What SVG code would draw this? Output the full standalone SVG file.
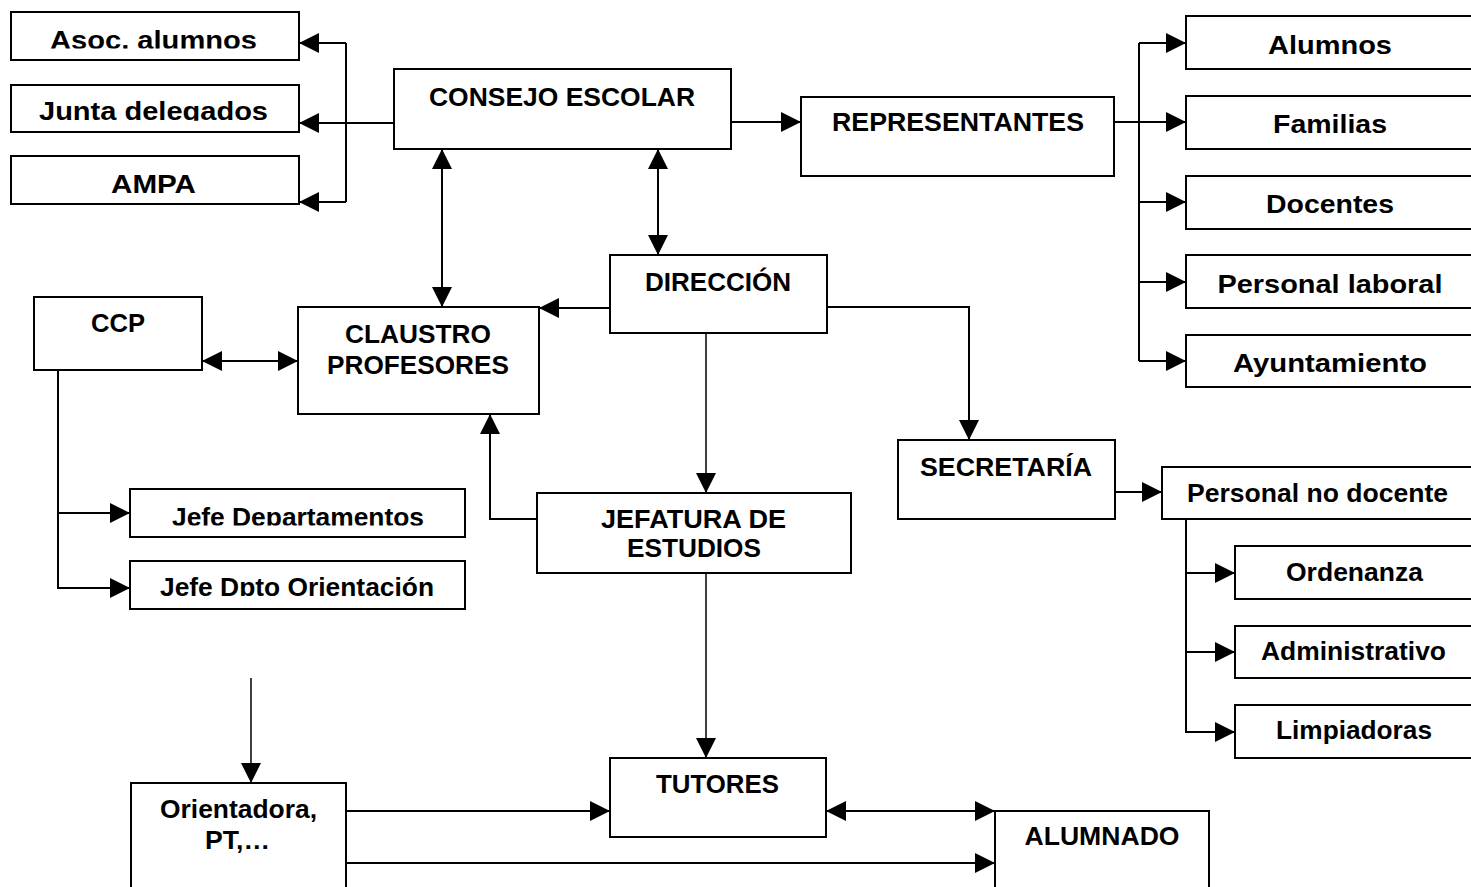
<svg xmlns="http://www.w3.org/2000/svg" width="1471" height="887" viewBox="0 0 1471 887">
<style>
.box{fill:#fff;stroke:#000;stroke-width:2}
.t{font-family:"Liberation Sans",Arial,sans-serif;font-weight:bold;font-size:25px;text-anchor:middle;fill:#000}
.c{fill:none;stroke:#000;stroke-width:2}
.thin{stroke-width:1.5}
.e{marker-end:url(#ah)}
.b{marker-start:url(#ah);marker-end:url(#ah)}
</style>
<defs>
<marker id="ah" markerUnits="userSpaceOnUse" markerWidth="20" markerHeight="20" viewBox="0 0 20 20" refX="20" refY="10" orient="auto-start-reverse"><path d="M0,0L20,10L0,20z" fill="#000"/></marker>
<clipPath id="clAsoc"><rect x="0" y="0" width="310" height="48.6"/></clipPath>
<clipPath id="clJunta"><rect x="0" y="85" width="310" height="35.7"/></clipPath>
<clipPath id="clJDep"><rect x="120" y="480" width="360" height="45.6"/></clipPath>
<clipPath id="clJOri"><rect x="120" y="555" width="360" height="41"/></clipPath>
</defs>
<rect width="1471" height="887" fill="#fff"/>
<g id="connectors">
<path class="c e" d="M394,123H299"/>
<path class="c" d="M346,43V202"/>
<path class="c e" d="M346,43H299"/>
<path class="c e" d="M346,202H299"/>
<path class="c e" d="M731,122H801"/>
<path class="c b" d="M442,149V307"/>
<path class="c b" d="M658,149V255"/>
<path class="c e" d="M1114,122H1186"/>
<path class="c" d="M1139,43V361"/>
<path class="c e" d="M1139,43H1186"/>
<path class="c e" d="M1139,202H1186"/>
<path class="c e" d="M1139,282H1186"/>
<path class="c e" d="M1139,361H1186"/>
<path class="c e" d="M610,308H539"/>
<path class="c e" d="M827,307H969V440"/>
<path class="c thin e" d="M706,333V493"/>
<path class="c b" d="M202,361H298"/>
<path class="c e" d="M58,370V588H130"/>
<path class="c e" d="M58,513H130"/>
<path class="c e" d="M537,519H490V414"/>
<path class="c e" d="M1115,492H1162"/>
<path class="c e" d="M1186,519V732H1235"/>
<path class="c e" d="M1186,573H1235"/>
<path class="c e" d="M1186,652H1235"/>
<path class="c thin e" d="M706,573V758"/>
<path class="c thin e" d="M251,678V783"/>
<path class="c e" d="M346,811H610"/>
<path class="c b" d="M826,811H995"/>
<path class="c e" d="M346,863H995"/>
</g>
<g id="asoc"><rect class="box" x="11" y="12" width="288" height="48"/><text class="t" x="153.5" y="49" font-size="24" textLength="207" lengthAdjust="spacingAndGlyphs" clip-path="url(#clAsoc)">Asoc. alumnos</text></g>
<g id="junta"><rect class="box" x="11" y="85" width="288" height="47"/><text class="t" x="153.5" y="120" font-size="26" textLength="229" lengthAdjust="spacingAndGlyphs" clip-path="url(#clJunta)">Junta delegados</text></g>
<g id="ampa"><rect class="box" x="11" y="156" width="288" height="48"/><text class="t" x="153.5" y="193" textLength="85" lengthAdjust="spacingAndGlyphs">AMPA</text></g>
<g id="consejo"><rect class="box" x="394" y="69" width="337" height="80"/><text class="t" x="562" y="105.5" textLength="266" lengthAdjust="spacingAndGlyphs">CONSEJO ESCOLAR</text></g>
<g id="representantes"><rect class="box" x="801" y="97" width="313" height="79"/><text class="t" x="958" y="131" textLength="252" lengthAdjust="spacingAndGlyphs">REPRESENTANTES</text></g>
<g id="alumnos"><rect class="box" x="1186" y="16" width="300" height="53"/><text class="t" x="1330" y="54" font-size="26" textLength="124" lengthAdjust="spacingAndGlyphs">Alumnos</text></g>
<g id="familias"><rect class="box" x="1186" y="96" width="300" height="53"/><text class="t" x="1330" y="133" font-size="26" textLength="114" lengthAdjust="spacingAndGlyphs">Familias</text></g>
<g id="docentes"><rect class="box" x="1186" y="176" width="300" height="53"/><text class="t" x="1330" y="213" font-size="26" textLength="128" lengthAdjust="spacingAndGlyphs">Docentes</text></g>
<g id="personal-laboral"><rect class="box" x="1186" y="255" width="300" height="53"/><text class="t" x="1330" y="293" font-size="26" textLength="225" lengthAdjust="spacingAndGlyphs">Personal laboral</text></g>
<g id="ayuntamiento"><rect class="box" x="1186" y="335" width="300" height="52"/><text class="t" x="1330" y="372" font-size="26" textLength="194" lengthAdjust="spacingAndGlyphs">Ayuntamiento</text></g>
<g id="direccion"><rect class="box" x="610" y="255" width="217" height="78"/><text class="t" x="718" y="290.5" textLength="146" lengthAdjust="spacingAndGlyphs">DIRECCIÓN</text></g>
<g id="ccp"><rect class="box" x="34" y="297" width="168" height="73"/><text class="t" x="118" y="332" textLength="54" lengthAdjust="spacingAndGlyphs">CCP</text></g>
<g id="claustro"><rect class="box" x="298" y="307" width="241" height="107"/><text class="t" x="418" y="342.5" textLength="146" lengthAdjust="spacingAndGlyphs">CLAUSTRO</text><text class="t" x="418" y="374" textLength="182" lengthAdjust="spacingAndGlyphs">PROFESORES</text></g>
<g id="jefe-dep"><rect class="box" x="130" y="489" width="335" height="48"/><text class="t" x="298" y="525.5" font-size="24" textLength="252" lengthAdjust="spacingAndGlyphs" clip-path="url(#clJDep)">Jefe Departamentos</text></g>
<g id="jefe-dpto-ori"><rect class="box" x="130" y="561" width="335" height="48"/><text class="t" x="297" y="595.5" font-size="24" textLength="274" lengthAdjust="spacingAndGlyphs" clip-path="url(#clJOri)">Jefe Dpto Orientación</text></g>
<g id="jefatura"><rect class="box" x="537" y="493" width="314" height="80"/><text class="t" x="693.5" y="528" textLength="185" lengthAdjust="spacingAndGlyphs">JEFATURA DE</text><text class="t" x="694" y="557" textLength="134" lengthAdjust="spacingAndGlyphs">ESTUDIOS</text></g>
<g id="secretaria"><rect class="box" x="898" y="440" width="217" height="79"/><text class="t" x="1006" y="475.5" textLength="172" lengthAdjust="spacingAndGlyphs">SECRETARÍA</text></g>
<g id="personal-no-docente"><rect class="box" x="1162" y="467" width="320" height="52"/><text class="t" x="1317.5" y="502" textLength="261" lengthAdjust="spacingAndGlyphs">Personal no docente</text></g>
<g id="ordenanza"><rect class="box" x="1235" y="546" width="250" height="53"/><text class="t" x="1354.5" y="581" textLength="137" lengthAdjust="spacingAndGlyphs">Ordenanza</text></g>
<g id="administrativo"><rect class="box" x="1235" y="626" width="250" height="52"/><text class="t" x="1353.5" y="660" textLength="185" lengthAdjust="spacingAndGlyphs">Administrativo</text></g>
<g id="limpiadoras"><rect class="box" x="1235" y="705" width="250" height="53"/><text class="t" x="1354" y="739" textLength="156" lengthAdjust="spacingAndGlyphs">Limpiadoras</text></g>
<g id="tutores"><rect class="box" x="610" y="758" width="216" height="79"/><text class="t" x="717.5" y="792.5" textLength="123" lengthAdjust="spacingAndGlyphs">TUTORES</text></g>
<g id="alumnado"><rect class="box" x="995" y="811" width="214" height="100"/><text class="t" x="1102" y="845" textLength="155" lengthAdjust="spacingAndGlyphs">ALUMNADO</text></g>
<g id="orientadora"><rect class="box" x="131" y="783" width="215" height="120"/><text class="t" x="238.5" y="818" textLength="157" lengthAdjust="spacingAndGlyphs">Orientadora,</text><text class="t" x="237.5" y="849" textLength="65" lengthAdjust="spacingAndGlyphs">PT,…</text></g>
</svg>
